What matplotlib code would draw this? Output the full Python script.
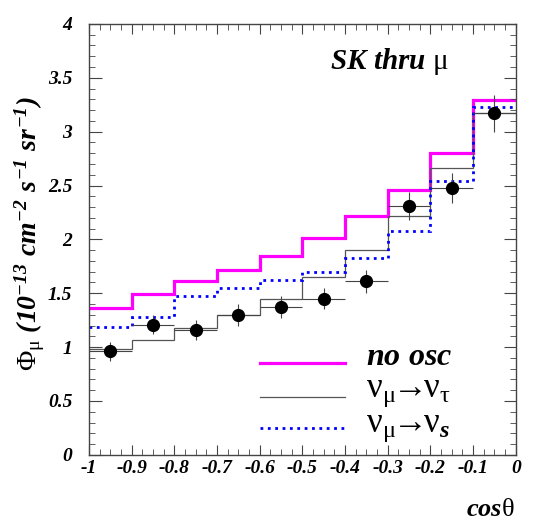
import numpy as np
import matplotlib
matplotlib.use("Agg")
import matplotlib.pyplot as plt
from matplotlib.ticker import MultipleLocator, FuncFormatter

# rm/it -> bold italic Times-like, sf -> upright (for greek letters and arrows)
plt.rcParams['mathtext.fontset'] = 'custom'
plt.rcParams['mathtext.rm'] = 'Liberation Serif:italic:bold'
plt.rcParams['mathtext.it'] = 'Liberation Serif:italic:bold'
plt.rcParams['mathtext.bf'] = 'Liberation Serif:bold'
plt.rcParams['mathtext.sf'] = 'Liberation Serif'

# cos(theta) bin edges and data
edges = [-1.0, -0.9, -0.8, -0.7, -0.6, -0.5, -0.4, -0.3, -0.2, -0.1, 0.0]
no_osc = [1.36, 1.49, 1.61, 1.72, 1.85, 2.01, 2.22, 2.46, 2.80, 3.29]
numu_nutau = [0.98, 1.07, 1.18, 1.30, 1.45, 1.65, 1.90, 2.22, 2.66, 3.17]
numu_nus = [1.19, 1.28, 1.47, 1.55, 1.62, 1.70, 1.83, 2.08, 2.54, 3.23]

data_x = [-0.95, -0.85, -0.75, -0.65, -0.55, -0.45, -0.35, -0.25, -0.15, -0.05]
data_y = [0.96, 1.21, 1.16, 1.30, 1.37, 1.45, 1.61, 2.31, 2.48, 3.17]
data_err = [0.09, 0.09, 0.09, 0.10, 0.10, 0.10, 0.11, 0.13, 0.14, 0.17]

serif_bi = dict(family='Liberation Serif', weight='bold', style='italic')

fig = plt.figure(figsize=(5.39, 5.32), dpi=100)
ax = fig.add_axes([0.165, 0.145, 0.792, 0.81])

ax.stairs(no_osc, edges, color='#ff00ff', lw=2.3, baseline=None)
ax.stairs(numu_nutau, edges, color='#555555', lw=0.9, baseline=None)
ax.stairs(numu_nus, edges, color='#0000ff', lw=2.0, ls=':', baseline=None)

ax.errorbar(data_x, data_y, xerr=0.05, yerr=data_err, fmt='o', color='black',
            ms=8.5, ecolor='#444444', elinewidth=0.8, capsize=0)

ax.set_xlim(-1, 0)
ax.set_ylim(0, 4)

ax.xaxis.set_major_locator(MultipleLocator(0.1))
ax.xaxis.set_minor_locator(MultipleLocator(0.025))
ax.yaxis.set_major_locator(MultipleLocator(0.5))
ax.yaxis.set_minor_locator(MultipleLocator(0.1))


def fmt(v, pos):
    s = f"{v:.1f}".rstrip('0').rstrip('.')
    if s == '-0':
        s = '0'
    return s


ax.xaxis.set_major_formatter(FuncFormatter(fmt))
ax.yaxis.set_major_formatter(FuncFormatter(fmt))

ax.tick_params(which='both', direction='in', top=True, right=True, color='#444444')
ax.tick_params(axis='y', which='major', length=9, pad=12)
ax.tick_params(axis='y', which='minor', length=4.5)
ax.tick_params(axis='x', which='major', length=7.5, pad=4)
ax.tick_params(axis='x', which='minor', length=4)
for lab in ax.get_xticklabels() + ax.get_yticklabels():
    lab.set_fontproperties(matplotlib.font_manager.FontProperties(size=14, **serif_bi))
for sp in ax.spines.values():
    sp.set_color('#444444')
    sp.set_linewidth(1.0)

ax.text(-0.435, 3.65, r'$SK\ thru\ \mathsf{\mu}$', fontsize=21,
        ha='left', va='center')

# legend drawn by hand
lx = [-0.6, -0.4]
ax.plot(lx, [0.85, 0.85], color='#ff00ff', lw=2.3)
ax.plot(lx, [0.54, 0.54], color='#555555', lw=0.9)
ax.plot(lx, [0.25, 0.25], color='#0000ff', lw=2.0, ls=':')
ax.text(-0.35, 0.91, r'$no\ osc$', fontsize=23, ha='left', va='center')
ax.text(-0.35, 0.585, r'$\mathsf{\nu_{\mu}}\!\!\mathsf{\rightarrow}\!\!\mathsf{\nu_{\tau}}$',
        fontsize=25, ha='left', va='center')
ax.text(-0.35, 0.26, r'$\mathsf{\nu_{\mu}}\!\!\mathsf{\rightarrow}\!\!\mathsf{\nu}_{s}$',
        fontsize=25, ha='left', va='center')

fig.text(0.955, 0.018, r'$cos\mathsf{\theta}$', fontsize=19, ha='right', va='bottom')
fig.text(0.055, 0.56, r'$\mathsf{\Phi_{\mu}}\ (10^{-13}\ cm^{-2}\ s^{-1}\ sr^{-1})$',
         fontsize=20, rotation=90, ha='center', va='center')

fig.savefig('out.png', dpi=100)
